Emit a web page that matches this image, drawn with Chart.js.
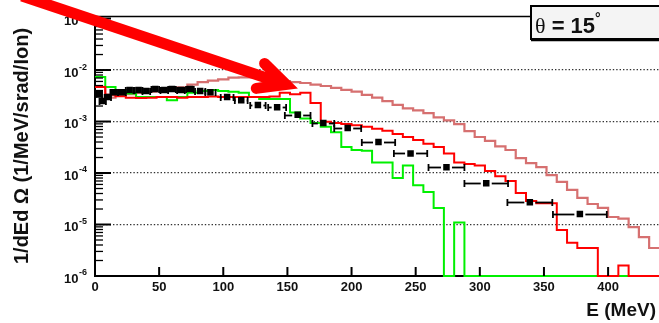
<!DOCTYPE html>
<html>
<head>
<meta charset="utf-8">
<title>1/dEd Omega, theta = 15 deg</title>
<script src="https://cdn.jsdelivr.net/npm/chart.js@4.4.1/dist/chart.umd.min.js"></script>
<style>
  html, body { margin: 0; padding: 0; background: #fff; overflow: hidden; }
  canvas { display: block; }
</style>
</head>
<body>
<canvas id="myChart" width="664" height="323"></canvas>
<script>
// histograms: 8 MeV bins from 0 to 440 MeV (0 = empty bin)
const binWidth = 8;

const pinkHist = [
  4.7e-3, 2.9e-3, 3.2e-3, 3.4e-3, 3.6e-3, 3.8e-3, 4.0e-3, 4.3e-3, 4.6e-3, 5.2e-3,
  5.8e-3, 6.2e-3, 6.6e-3, 7.1e-3, 7.2e-3, 7.2e-3, 6.9e-3, 6.6e-3, 6.1e-3, 5.8e-3,
  5.6e-3, 5.2e-3, 4.9e-3, 4.5e-3, 4.1e-3, 3.8e-3, 3.3e-3, 2.9e-3, 2.5e-3, 2.1e-3,
  1.8e-3, 1.65e-3, 1.45e-3, 1.2e-3, 1.05e-3, 8.9e-4, 6.5e-4, 5.0e-4, 4.2e-4, 3.3e-4,
  2.8e-4, 1.95e-4, 1.55e-4, 1.3e-4, 9.1e-5, 6.7e-5, 4.7e-5, 3.3e-5, 2.5e-5, 2.1e-5,
  1.4e-5, 1.3e-5, 8.9e-6, 5.7e-6, 3.5e-6
];

const redHist = [
  4.7e-3, 3.3e-3, 3.1e-3, 2.9e-3, 2.85e-3, 2.9e-3, 3.0e-3, 3.0e-3, 2.9e-3, 3.0e-3,
  3.0e-3, 3.05e-3, 3.0e-3, 3.0e-3, 3.0e-3, 3.0e-3, 3.0e-3, 3.05e-3, 3.6e-3, 3.4e-3,
  3.6e-3, 2.3e-3, 9.9e-4, 9.4e-4, 9.0e-4, 8.5e-4, 7.9e-4, 7.2e-4, 6.6e-4, 5.7e-4,
  5.0e-4, 4.4e-4, 3.7e-4, 3.2e-4, 2.4e-4, 1.6e-4, 1.5e-4, 1.4e-4, 1.1e-4, 8.7e-5,
  7.0e-5, 4.1e-5, 2.85e-5, 2.6e-5, 2.6e-5, 7.8e-6, 4.4e-6, 3.5e-6, 3.5e-6, 0,
  0, 1.6e-6, 0, 0, 0
];

const greenHist = [
  7.3e-3, 4.7e-3, 3.6e-3, 3.5e-3, 3.0e-3, 3.0e-3, 3.0e-3, 2.6e-3, 3.0e-3, 3.6e-3,
  3.9e-3, 4.1e-3, 3.9e-3, 3.8e-3, 3.6e-3, 3.0e-3, 2.75e-3, 2.75e-3, 2.75e-3, 1.5e-3,
  1.15e-3, 9.4e-4, 7.9e-4, 6.2e-4, 3.2e-4, 2.8e-4, 2.7e-4, 1.6e-4, 1.6e-4, 8.0e-5,
  1.4e-4, 5.8e-5, 4.3e-5, 2.1e-5, 0, 1.1e-5, 0, 0, 0, 0,
  0, 0, 0, 0, 0, 0, 0, 0, 0, 0,
  0, 0, 0, 0, 0
];

// measured points, with half bin width as x error
const ptE  = [3, 6, 10, 15, 21, 27, 34, 40, 47, 54, 60, 67, 74, 82, 90,
              103, 114, 127, 142, 158, 178, 197, 221, 246, 274, 305, 339, 378];
const ptY  = [3.4e-3, 2.5e-3, 3.0e-3, 3.7e-3, 3.7e-3, 4.1e-3, 4.1e-3, 3.9e-3, 4.3e-3, 4.1e-3,
              4.3e-3, 4.1e-3, 4.3e-3, 3.9e-3, 3.7e-3, 3.0e-3, 2.6e-3, 2.1e-3, 1.9e-3, 1.35e-3,
              9.4e-4, 7.5e-4, 4.0e-4, 2.4e-4, 1.3e-4, 6.3e-5, 2.7e-5, 1.6e-5];
const ptDx = [2.5, 2.5, 2.5, 3, 3, 3, 3, 3, 3, 3, 3, 3, 3, 4, 4,
              5, 5, 6, 7, 10, 8.5, 10.5, 13, 13, 14, 17, 17.5, 21];

// axes
const xTicks = [0, 50, 100, 150, 200, 250, 300, 350, 400];
const xTickLabels = ['0', '50', '100', '150', '200', '250', '300', '350', '400'];
const yTicks = [1e-6, 1e-5, 1e-4, 1e-3, 1e-2, 1e-1];
const yTickExp = ['-6', '-5', '-4', '-3', '-2', '-1'];
const xMin = 0, xMax = 440;
const yMin = 1e-6, yMax = 0.112;

const xTitle = 'E (MeV)';
const yTitle = '1/dEd \u03A9 (1/MeV/srad/Ion)';
const angleLabel = '15';

// big red annotation arrow (canvas pixels)
const arrowTail = { x: 22, y: -4 };
const arrowTip = { x: 286, y: 84.5 };

const sansBold = '"Liberation Sans", Arial, Helvetica, sans-serif';

// step outline for a histogram, empty bins sit on the axis like in ROOT
function histPoints(values) {
  var pts = values.map(function (v, i) {
    return { x: i * binWidth, y: v > 0 ? v : yMin };
  });
  pts.push({ x: values.length * binWidth, y: pts[pts.length - 1].y });
  return pts;
}

function line(ctx, x1, y1, x2, y2) {
  ctx.beginPath();
  ctx.moveTo(x1, y1);
  ctx.lineTo(x2, y2);
  ctx.stroke();
}

const rootStyle = {
  id: 'rootStyle',

  afterDatasetsDraw(chart) {
    // x error bars with end caps
    const ctx = chart.ctx, xs = chart.scales.x, ys = chart.scales.y;
    ctx.save();
    ctx.strokeStyle = '#000';
    ctx.lineWidth = 1.8;
    ptE.forEach(function (e, i) {
      const px = xs.getPixelForValue(e);
      const py = Math.round(ys.getPixelForValue(ptY[i])) + 0.5;
      const lo = xs.getPixelForValue(e - ptDx[i]);
      const hi = xs.getPixelForValue(e + ptDx[i]);
      const gap = 5.5;
      if (px - gap > lo) line(ctx, lo, py, px - gap, py);
      if (hi > px + gap) line(ctx, px + gap, py, hi, py);
      line(ctx, lo, py - 3.5, lo, py + 3.5);
      line(ctx, hi, py - 3.5, hi, py + 3.5);
    });
    ctx.restore();
  },

  afterDraw(chart) {
    const ctx = chart.ctx, xs = chart.scales.x, ys = chart.scales.y;
    const a = chart.chartArea;
    ctx.save();
    ctx.strokeStyle = '#000';

    // top of the frame
    ctx.lineWidth = 1.5;
    line(ctx, a.left - 1, a.top + 0.5, a.right, a.top + 0.5);

    // ticks inside the frame
    yTicks.forEach(function (v) {
      const py = ys.getPixelForValue(v);
      ctx.lineWidth = 2;
      line(ctx, a.left, py, a.left + 16, py);
      ctx.lineWidth = 1.3;
      for (let j = 2; j <= 9; j++) {
        if (v * j > yMax) break;
        const pm = ys.getPixelForValue(v * j);
        line(ctx, a.left, pm, a.left + 8, pm);
      }
    });
    ctx.lineWidth = 2;
    xTicks.forEach(function (v) {
      const px = xs.getPixelForValue(v);
      line(ctx, px, a.bottom, px, a.bottom - 9);
    });

    // tick labels
    ctx.fillStyle = '#111';
    ctx.textBaseline = 'middle';
    ctx.textAlign = 'right';
    yTicks.forEach(function (v, i) {
      const py = ys.getPixelForValue(v);
      ctx.font = 'bold 9px ' + sansBold;
      ctx.fillText(yTickExp[i], 87, py - 3);
      const w = ctx.measureText(yTickExp[i]).width;
      ctx.font = 'bold 13px ' + sansBold;
      ctx.fillText('10', 87 - w - 0.5, py + 3);
    });
    ctx.textAlign = 'center';
    ctx.font = 'bold 13px ' + sansBold;
    xTicks.forEach(function (v, i) {
      ctx.fillText(xTickLabels[i], xs.getPixelForValue(v), 287);
    });

    // axis titles
    ctx.font = 'bold 19px ' + sansBold;
    ctx.textAlign = 'right';
    ctx.fillText(xTitle, 656, 311);
    ctx.save();
    ctx.translate(28, (a.top + a.bottom) / 2);
    ctx.rotate(-Math.PI / 2);
    ctx.font = 'bold 20px ' + sansBold;
    ctx.textAlign = 'center';
    ctx.textBaseline = 'alphabetic';
    ctx.fillText(yTitle, 0, 0);
    ctx.restore();

    // angle label box
    ctx.fillStyle = '#f4f4f4';
    ctx.fillRect(530, 5, 140, 34);
    ctx.lineWidth = 2;
    ctx.strokeRect(531, 6, 140, 33);
    ctx.lineWidth = 1.5;
    line(ctx, 531, 40.5, 664, 40.5);
    ctx.fillStyle = '#111';
    ctx.textAlign = 'left';
    ctx.textBaseline = 'alphabetic';
    let tx = 535;
    ctx.font = '22px "Liberation Serif", "DejaVu Serif", serif';
    ctx.fillText('\u03B8', tx, 33);
    tx += ctx.measureText('\u03B8').width;
    ctx.font = 'bold 22px ' + sansBold;
    const txt = ' = ' + angleLabel;
    ctx.fillText(txt, tx, 33);
    tx += ctx.measureText(txt).width;
    ctx.font = 'bold 14px ' + sansBold;
    ctx.fillText('\u00B0', tx, 23);

    // arrow
    const ang = Math.atan2(arrowTip.y - arrowTail.y, arrowTip.x - arrowTail.x);
    const wing = 30, spread = 26 * Math.PI / 180;
    ctx.strokeStyle = '#ff0000';
    ctx.lineWidth = 11;
    ctx.lineCap = 'butt';
    line(ctx, arrowTail.x, arrowTail.y, arrowTip.x, arrowTip.y);
    ctx.lineCap = 'round';
    ctx.lineJoin = 'miter';
    ctx.miterLimit = 10;
    ctx.beginPath();
    ctx.moveTo(arrowTip.x - wing * Math.cos(ang - spread), arrowTip.y - wing * Math.sin(ang - spread));
    ctx.lineTo(arrowTip.x, arrowTip.y);
    ctx.lineTo(arrowTip.x - wing * Math.cos(ang + spread), arrowTip.y - wing * Math.sin(ang + spread));
    ctx.stroke();

    ctx.restore();
  }
};

// dotted grid only at the decades inside the frame (not at the very top one)
const gridDots = {
  color: function (c) { return c.tick && c.tick.value > 0.05 ? 'rgba(0,0,0,0)' : '#333'; },
  lineWidth: 1.3,
  drawTicks: false
};
const frameBorder = { color: '#000', width: 2, dash: [1.4, 2] };

const ctx = document.getElementById('myChart').getContext('2d');
const chart = new Chart(ctx, {
  type: 'line',
  data: {
    datasets: [
      {
        label: 'data',
        data: ptE.map(function (e, i) { return { x: e, y: ptY[i] }; }),
        showLine: false,
        pointStyle: 'rect',
        pointRadius: 4.6,
        pointBackgroundColor: '#000',
        pointBorderColor: '#000',
        pointBorderWidth: 0
      },
      {
        label: 'red',
        data: histPoints(redHist),
        stepped: 'before',
        borderColor: '#ff0000',
        borderWidth: 2,
        pointRadius: 0,
        fill: false,
        clip: { left: 0, top: 0, right: 0, bottom: 3 }
      },
      {
        label: 'green',
        data: histPoints(greenHist),
        stepped: 'before',
        borderColor: '#00f000',
        borderWidth: 2,
        pointRadius: 0,
        fill: false,
        clip: { left: 0, top: 0, right: 0, bottom: 3 }
      },
      {
        label: 'pink',
        data: histPoints(pinkHist),
        stepped: 'before',
        borderColor: 'rgb(214,112,112)',
        borderWidth: 2.2,
        pointRadius: 0,
        fill: false
      }
    ]
  },
  options: {
    responsive: false,
    animation: false,
    events: [],
    layout: { padding: { top: 16, left: 0, right: 0, bottom: 0 } },
    plugins: { legend: { display: false }, tooltip: { enabled: false } },
    scales: {
      x: {
        type: 'linear',
        min: xMin,
        max: xMax,
        afterFit: function (s) { s.height = 47; },
        afterBuildTicks: function (s) { s.ticks = xTicks.map(function (v) { return { value: v }; }); },
        ticks: { display: false },
        grid: gridDots,
        border: frameBorder
      },
      y: {
        type: 'logarithmic',
        min: yMin,
        max: yMax,
        afterFit: function (s) { s.width = 95; },
        afterBuildTicks: function (s) { s.ticks = yTicks.map(function (v) { return { value: v }; }); },
        ticks: { display: false },
        grid: gridDots,
        border: frameBorder
      }
    }
  },
  plugins: [rootStyle]
});
</script>
</body>
</html>
